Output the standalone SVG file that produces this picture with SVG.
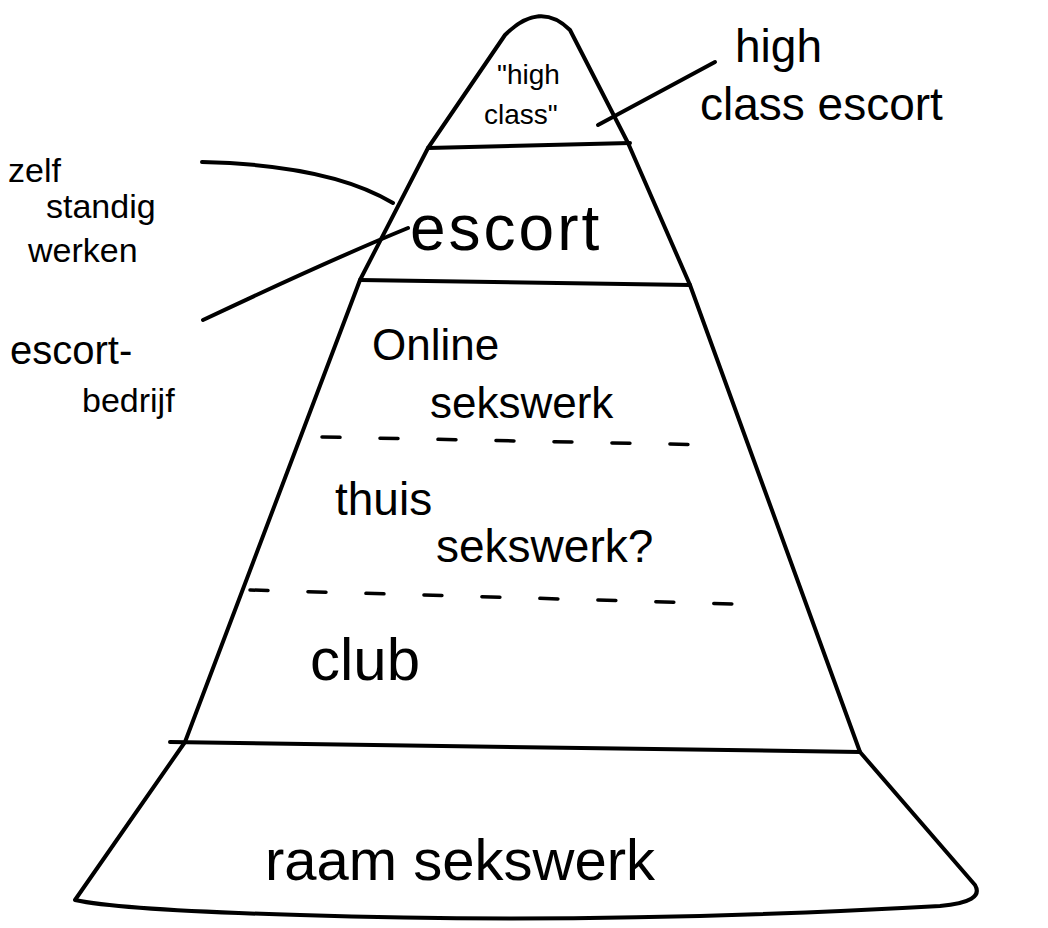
<svg xmlns="http://www.w3.org/2000/svg" width="1048" height="928" viewBox="0 0 1048 928">
<style>
.ln{fill:none;stroke:#000;stroke-width:4;stroke-linecap:round;stroke-linejoin:round}
.ds{fill:none;stroke:#000;stroke-width:3.5;stroke-linecap:round;stroke-dasharray:18 40}
text{font-family:"Liberation Sans","DejaVu Sans",sans-serif;fill:#000}
</style>
<rect width="1048" height="928" fill="#fff"/>
<g id="pyramid">
<path class="ln" d="M75,900 L185,742 L360,280 L428,148 L505,35 Q540,0 570,30 L628,143 L690,285 L860,752 L975,885 Q985,902 940,906 Q600,925 300,915 Q120,910 75,900 Z"/>
<path class="ln" d="M428,148 L630,143"/>
<path class="ln" d="M360,280 L690,285"/>
<path class="ds" d="M322,437 L715,445"/>
<path class="ds" d="M250,590 L770,605"/>
<path class="ln" d="M170,742 L860,752"/>
</g>
<g id="connectors">
<path class="ln" d="M598,125 L715,62"/>
<path class="ln" d="M202,162 Q330,165 393,203"/>
<path class="ln" d="M203,320 Q330,260 408,228"/>
</g>
<g id="n-highclass"><text x="497" y="84" font-size="28">"high</text><text x="484" y="124" font-size="28">class"</text></g>
<g id="n-highclassescort"><text x="735" y="62" font-size="46">high</text><text x="700" y="120" font-size="46">class escort</text></g>
<g id="n-zelf"><text x="8" y="182" font-size="34">zelf</text><text x="46" y="218" font-size="34">standig</text><text x="28" y="262" font-size="34">werken</text></g>
<g id="n-escort"><text x="410" y="250" font-size="64" letter-spacing="3">escort</text></g>
<g id="n-escortbedrijf"><text x="10" y="364" font-size="40">escort-</text><text x="82" y="412" font-size="34">bedrijf</text></g>
<g id="n-online"><text x="372" y="360" font-size="44">Online</text><text x="430" y="418" font-size="44">sekswerk</text></g>
<g id="n-thuis"><text x="335" y="515" font-size="46">thuis</text><text x="436" y="562" font-size="46">sekswerk?</text></g>
<g id="n-club"><text x="310" y="680" font-size="60">club</text></g>
<g id="n-raam"><text x="265" y="880" font-size="58">raam sekswerk</text></g>
</svg>
